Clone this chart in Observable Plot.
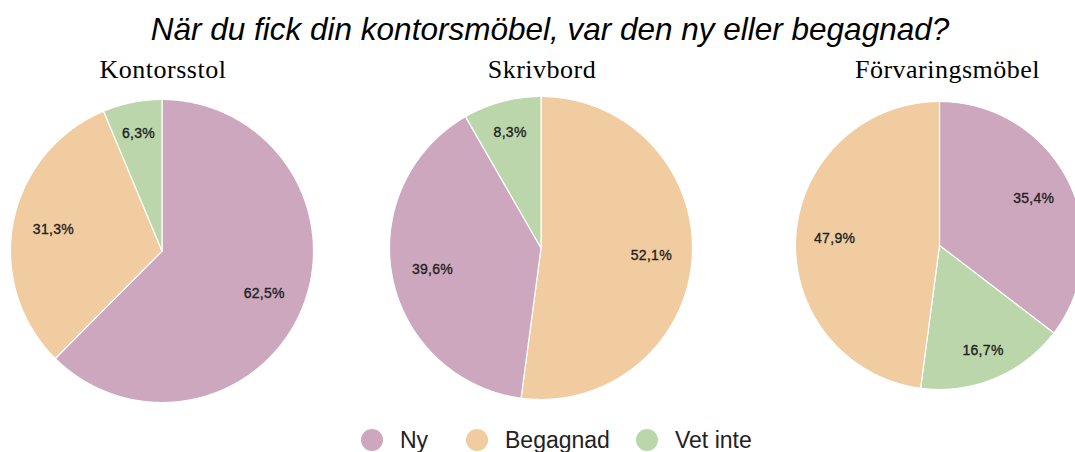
<!DOCTYPE html>
<html><head><meta charset="utf-8">
<script src="https://cdn.jsdelivr.net/npm/d3@7"></script>
<script src="https://cdn.jsdelivr.net/npm/@observablehq/plot@0.6"></script>
<style>
body{margin:0;background:#fff;}
#root{position:relative;width:1075px;height:452px;overflow:hidden;background:#fff;}
.title{position:absolute;left:0;width:1100px;top:11px;line-height:36px;text-align:center;font:italic 31.5px "Liberation Sans",Arial,sans-serif;color:#000;white-space:nowrap;}
.sub{position:absolute;top:55px;line-height:30px;font:26px "Liberation Serif","Times New Roman",serif;letter-spacing:0.5px;color:#000;transform:translateX(-50%);white-space:nowrap;}
.pie{position:absolute;}
.pie svg{max-width:none !important;display:block;}
.legitem{position:absolute;top:427px;height:26px;display:flex;align-items:center;font:23px "Liberation Sans",Arial,sans-serif;color:#222;white-space:nowrap;}
.legitem .sw{width:22px;height:22px;border-radius:50%;margin-right:17px;flex:none;}
</style>
</head><body>
<div id="root"></div>
<script>
const title = "När du fick din kontorsmöbel, var den ny eller begagnad?";
const categories = ["Ny", "Begagnad", "Vet inte"];
const colors = ["#cda7bd", "#f0cca0", "#bbd6ab"];
const chartNames = ["Kontorsstol", "Skrivbord", "Förvaringsmöbel"];
// values per category (Ny, Begagnad, Vet inte), in percent
const kontorsstol = [62.5, 31.3, 6.3];
const skrivbord = [39.6, 52.1, 8.3];
const forvaringsmobel = [35.4, 47.9, 16.7];
// clockwise slice order starting at 12 o'clock
const kontorsstolOrder = ["Ny", "Begagnad", "Vet inte"];
const skrivbordOrder = ["Begagnad", "Ny", "Vet inte"];
const forvaringsmobelOrder = ["Ny", "Vet inte", "Begagnad"];

// layout (pixels)
const layout = [
  {cx: 161, cy: 250, r: 151.5, sub: 163},
  {cx: 540.5, cy: 247, r: 151.5, sub: 542},
  {cx: 939.3, cy: 245, r: 144, sub: 947.5}
];
const legendX = [361, 466, 636];

const root = document.getElementById("root");
const t = document.createElement("div");
t.className = "title"; t.textContent = title; root.appendChild(t);

const fmt = v => v.toFixed(1).replace(".", ",") + "%";

function build(values, order, r) {
  const byCat = new Map(categories.map((c, i) => [c, values[i]]));
  const total = d3.sum(order, c => byCat.get(c));
  let a = 0;
  const pts = [], labels = [];
  for (const c of order) {
    const v = byCat.get(c);
    const a0 = a, a1 = a + v / total * 2 * Math.PI;
    a = a1;
    pts.push({cat: c, x: 0, y: 0});
    const n = Math.max(2, Math.ceil((a1 - a0) / (Math.PI / 360)));
    for (let i = 0; i <= n; i++) {
      const th = a0 + (a1 - a0) * i / n;
      pts.push({cat: c, x: r * Math.sin(th), y: r * Math.cos(th)});
    }
    const am = (a0 + a1) / 2, lr = r * (v < 20 ? 0.79 : 0.73);
    labels.push({cat: c, x: lr * Math.sin(am), y: lr * Math.cos(am), text: fmt(v)});
  }
  return {pts, labels};
}

const datasets = [
  [kontorsstol, kontorsstolOrder],
  [skrivbord, skrivbordOrder],
  [forvaringsmobel, forvaringsmobelOrder]
];

datasets.forEach(([vals, order], i) => {
  const L = layout[i];
  const h = L.r + 3, S = 2 * h;
  const {pts, labels} = build(vals, order, L.r);
  const chart = Plot.plot({
    width: S, height: S, margin: 0,
    x: {domain: [-h, h], range: [0, S], axis: null},
    y: {domain: [-h, h], range: [S, 0], axis: null},
    color: {domain: categories, range: colors},
    style: {fontFamily: "'Liberation Sans', Arial, sans-serif", background: "transparent", overflow: "visible", maxWidth: "none"},
    marks: [
      Plot.line(pts, {x: "x", y: "y", z: "cat", fill: "cat", stroke: "white", strokeWidth: 1.2, curve: "linear-closed"}),
      Plot.text(labels, {x: "x", y: "y", text: "text", fontSize: 14, fill: "#222", stroke: "#222", strokeWidth: 0.35, style: "letter-spacing:0.3px"})
    ]
  });
  chart.querySelectorAll("text").forEach(el => el.setAttribute("letter-spacing", "0.3"));
  const wrap = document.createElement("div");
  wrap.className = "pie";
  wrap.style.left = (L.cx - h) + "px";
  wrap.style.top = (L.cy - h) + "px";
  wrap.style.width = S + "px";
  wrap.style.height = S + "px";
  wrap.appendChild(chart);
  root.appendChild(wrap);
  const s = document.createElement("div");
  s.className = "sub"; s.style.left = L.sub + "px"; s.textContent = chartNames[i];
  root.appendChild(s);
});

categories.forEach((c, i) => {
  const it = document.createElement("div"); it.className = "legitem";
  it.style.left = legendX[i] + "px";
  const sw = document.createElement("span"); sw.className = "sw"; sw.style.background = colors[i];
  const tx = document.createElement("span"); tx.textContent = c;
  it.appendChild(sw); it.appendChild(tx); root.appendChild(it);
});
</script>
</body></html>
